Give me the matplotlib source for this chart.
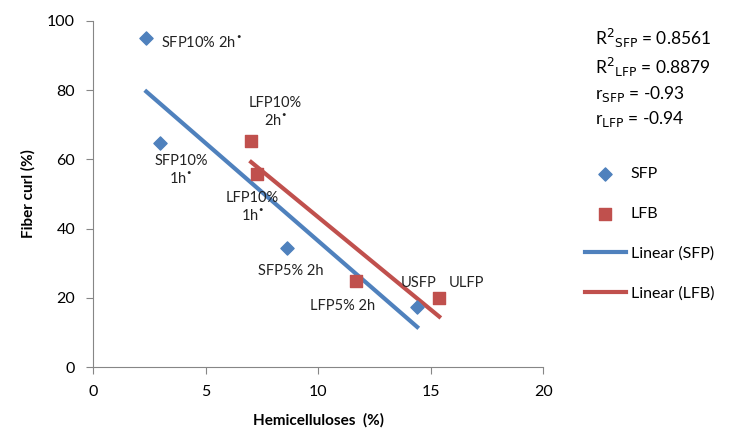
import matplotlib.pyplot as plt
import numpy as np

plt.rcParams['font.family'] = ['Lato', 'DejaVu Sans']

#--data
sfp_x = [2.36, 2.98, 8.62, 14.4]
sfp_y = [95.1, 64.7, 34.4, 17.3]
lfb_x = [7.02, 7.29, 11.69, 15.38]
lfb_y = [65.3, 55.8, 24.9, 19.9]

#--point labels: text, x, y, horizontal alignment
dot = '$^{\\bullet}$'
labels = [
    ('SFP10% 2h' + dot, 3.0, 93.5, 'left'),
    ('LFP10%\n2h' + dot, 8.1, 73.5, 'center'),
    ('SFP10%\n1h' + dot, 3.9, 56.7, 'center'),
    ('LFP10%\n1h' + dot, 7.07, 46.0, 'center'),
    ('SFP5% 2h', 8.8, 27.7, 'center'),
    ('LFP5% 2h', 11.1, 17.6, 'center'),
    ('USFP', 14.45, 24.3, 'center'),
    ('ULFP', 16.6, 24.3, 'center'),
]

stats = ('R$^2$$_{\\mathrm{SFP}}$ = 0.8561\nR$^2$$_{\\mathrm{LFP}}$ = 0.8879\n'
         'r$_{\\mathrm{SFP}}$ = -0.93\nr$_{\\mathrm{LFP}}$ = -0.94')

blue = '#4f81bd'
red = '#c0504d'
grey = '#868686'

fig = plt.figure(figsize=(7.34, 4.36), dpi=100)
ax = fig.add_axes([0.127, 0.158, 0.613, 0.794])

ax.scatter(sfp_x, sfp_y, marker='D', s=45, c=blue, label='SFP', zorder=3)
ax.scatter(lfb_x, lfb_y, marker='s', s=75, c=red, label='LFB', zorder=3)

#--linear trend lines over the data range
for xs, ys, c, lab in [(sfp_x, sfp_y, blue, 'Linear (SFP)'), (lfb_x, lfb_y, red, 'Linear (LFB)')]:
    k, b = np.polyfit(xs, ys, 1)
    xx = np.array([min(xs), max(xs)])
    ax.plot(xx, k*xx+b, c=c, lw=3, label=lab, zorder=2)

for txt, x, y, ha in labels:
    ax.text(x, y, txt, ha=ha, va='center', fontsize=10.5, color='#222222', linespacing=1.3)

ax.set_xlim(0, 20)
ax.set_ylim(0, 100)
ax.set_xticks(range(0, 21, 5))
ax.set_yticks(range(0, 101, 20))
ax.tick_params(direction='out', length=5, color=grey, labelsize=11.5, pad=8)
for s in ['top', 'right']:
    ax.spines[s].set_visible(False)
for s in ['left', 'bottom']:
    ax.spines[s].set_color(grey)
ax.set_xlabel('Hemicelluloses  (%)', fontsize=11, fontweight='bold', labelpad=10)
ax.set_ylabel('Fiber curl (%)', fontsize=11, fontweight='bold', labelpad=8)

fig.text(0.81, 0.938, stats, fontsize=12.5, va='top', ha='left', linespacing=1.32)
ax.legend(loc='upper left', bbox_to_anchor=(1.06, 0.62), frameon=False, fontsize=11.5,
          handlelength=2.6, handletextpad=0.3, labelspacing=1.6, scatterpoints=1)

fig.savefig('out.png', dpi=100)
